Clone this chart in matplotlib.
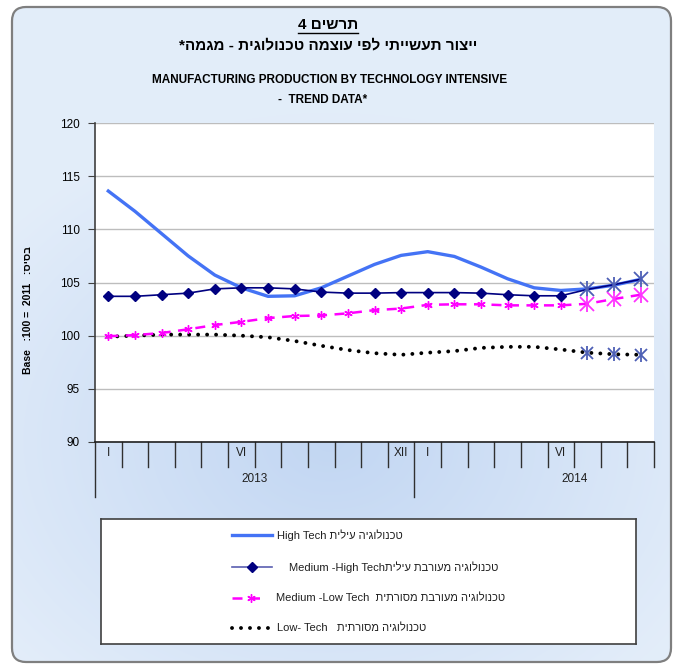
"""
Manufacturing production by technology intensive - trend data
"""

import numpy as np
import matplotlib
matplotlib.use("Agg")
import matplotlib.pyplot as plt
from matplotlib.patches import FancyBboxPatch
from matplotlib.lines import Line2D
import matplotlib.transforms as mtransforms

plt.rcParams["font.family"] = ["Liberation Sans", "DejaVu Sans"]


def heb(s):
    # matplotlib draws left to right, so Hebrew runs are given in visual order
    return s[::-1]


# ---------------------------------
# Data
# ---------------------------------

months = list(range(1, 22))
month_labels = ["I", "", "", "", "", "VI", "", "", "", "", "", "XII",
                "I", "", "", "", "", "VI", "", "", ""]
years = ["2013", "2014"]
year_pos = [6.5, 18.5]

high_tech = [113.6, 111.7, 109.6, 107.5, 105.7, 104.5, 103.7, 103.75, 104.5,
             105.6, 106.7, 107.55, 107.9, 107.45, 106.45, 105.35, 104.5,
             104.25, 104.4, 104.75, 105.3]
med_high = [103.7, 103.7, 103.85, 104.0, 104.4, 104.5, 104.5, 104.4, 104.1,
            104.0, 104.0, 104.05, 104.05, 104.05, 104.0, 103.85, 103.75,
            103.75, 104.35, 104.8, 105.3]
med_low = [99.95, 100.05, 100.25, 100.6, 101.0, 101.3, 101.65, 101.85, 101.9,
           102.1, 102.4, 102.55, 102.9, 102.95, 102.95, 102.85, 102.85,
           102.85, 103.0, 103.45, 103.85]
low_tech = [99.9, 100.0, 100.1, 100.1, 100.1, 100.0, 99.85, 99.5, 99.05,
            98.65, 98.35, 98.2, 98.4, 98.55, 98.85, 98.95, 98.95, 98.7,
            98.4, 98.25, 98.2]
n_est = 3  # last months are estimates

legend_labels = [
    "High Tech " + heb("טכנולוגיה עילית"),
    "Medium -High Tech" + heb("טכנולוגיה מעורבת עילית"),
    "Medium -Low Tech  " + heb("טכנולוגיה מעורבת מסורתית"),
    "Low- Tech   " + heb("טכנולוגיה מסורתית"),
]

# ---------------------------------
# Figure and background
# ---------------------------------

W, H = 675, 665
fig = plt.figure(figsize=(W / 100, H / 100), dpi=100)
fig.patch.set_facecolor("white")

bg = fig.add_axes([0, 0, 1, 1], zorder=-10)
bg.set_xlim(0, W)
bg.set_ylim(H, 0)
bg.axis("off")

yy, xx = np.mgrid[0:H, 0:W]
r = np.sqrt(((xx - 330) / 420.0) ** 2 + ((yy - 440) / 330.0) ** 2)
t = np.clip(r, 0, 1)[..., None]
c_in = np.array([0.76, 0.84, 0.95])
c_out = np.array([0.89, 0.93, 0.98])
grad = c_in * (1 - t) + c_out * t
im = bg.imshow(grad, extent=(0, W, H, 0), aspect="auto", zorder=0)

frame = FancyBboxPatch((12, 7), 659, 655,
                       boxstyle="round,pad=0,rounding_size=14",
                       facecolor="none", edgecolor="#7f7f7f", lw=1.6,
                       zorder=2)
bg.add_patch(frame)
im.set_clip_path(frame)

# ---------------------------------
# Titles
# ---------------------------------

t1 = fig.text(328 / W, 1 - 25 / H, "4 " + heb("תרשים"), ha="center",
              va="center", fontsize=11, fontweight="bold")
fig.text(328 / W, 1 - 45 / H,
         heb("ייצור תעשייתי לפי עוצמה טכנולוגית - מגמה*"),
         ha="center", va="center", fontsize=11, fontweight="bold")
fig.text(330 / W, 1 - 80 / H,
         "MANUFACTURING PRODUCTION BY TECHNOLOGY INTENSIVE",
         ha="center", va="center", fontsize=8.5, fontweight="bold")
fig.text(323 / W, 1 - 100 / H, "-  TREND DATA*",
         ha="center", va="center", fontsize=8.5, fontweight="bold")

fig.text(28 / W, 1 - 310 / H,
         "Base   :100 =  2011   :" + heb("בסיס"),
         rotation=90, ha="center", va="center", fontsize=7.5,
         fontweight="bold")

# ---------------------------------
# Plot area
# ---------------------------------

ax = fig.add_axes([95 / W, 1 - 442 / H, 559 / W, 319 / H])
ax.set_facecolor("white")
ax.set_xlim(0.5, 21.5)
ax.set_ylim(90, 120)
ax.set_yticks(range(90, 121, 5))
ax.tick_params(axis="y", labelsize=8.5, length=5, color="#404040",
               pad=6)
ax.set_xticks([])
ax.grid(axis="y", color="#bdbdbd", lw=1)
ax.set_axisbelow(True)
for s in ["top", "right"]:
    ax.spines[s].set_visible(False)
ax.spines["left"].set_color("#404040")
ax.spines["bottom"].set_color("#202020")
ax.spines["left"].set_linewidth(1.2)
ax.spines["bottom"].set_linewidth(1.2)

# category axis below the plot
trans = mtransforms.blended_transform_factory(ax.transData, ax.transAxes)
for b in np.arange(0.5, 22, 1.0):
    low = -0.172 if b in (0.5, 12.5) else -0.078
    ax.plot([b, b], [0, low], transform=trans, color="#303030", lw=1,
            clip_on=False)
for m, lab in zip(months, month_labels):
    ax.text(m, -0.036, lab, transform=trans, ha="center", va="center",
            fontsize=8.5, color="#202020")
for p, y in zip(year_pos, years):
    ax.text(p, -0.115, y, transform=trans, ha="center", va="center",
            fontsize=8.5, color="#202020")

# series
ax.plot(months, low_tech, color="black", lw=2.8,
        linestyle=(0, (0.01, 2.3)), dash_capstyle="round", zorder=3)
ax.plot(months, med_low, color="#ff00ff", lw=1.8,
        linestyle=(0, (4, 3)), marker=(6, 2, 0), ms=6, mew=1,
        markevery=slice(0, 21 - n_est), zorder=4)
ax.plot(months, high_tech, color="#4473f5", lw=2.4, zorder=5)
ax.plot(months, med_high, color="#000080", lw=1.2, marker="D", ms=5,
        markevery=slice(0, 21 - n_est), zorder=6)

# estimate markers
est = months[-n_est:]
for ser, col, size in [(med_high, "#4d5fb5", 12), (low_tech, "#4d5fb5", 10),
                       (med_low, "#ff33ff", 12)]:
    ax.plot(est, ser[-n_est:], ls="none", marker="x", ms=size * 0.8,
            mew=1.3, color=col, zorder=7)
    ax.plot(est, ser[-n_est:], ls="none", marker="|", ms=size,
            mew=1.3, color=col, zorder=7)

# ---------------------------------
# Legend
# ---------------------------------

lax = fig.add_axes([101 / W, 1 - 644 / H, 535 / W, 125 / H])
lax.set_xlim(0, 535)
lax.set_ylim(125, 0)
lax.set_xticks([])
lax.set_yticks([])
lax.set_facecolor("white")
for s in lax.spines.values():
    s.set_color("#404040")
    s.set_linewidth(1.2)

rows = [16, 48, 79, 109]
text_x = [176, 188, 175, 176]
lax.plot([131, 171], [rows[0]] * 2, color="#4473f5", lw=2.4)
lax.plot([131, 171], [rows[1]] * 2, color="#5a5fb0", lw=1.2)
lax.plot([151], [rows[1]], marker="D", ms=5, color="#000080")
lax.plot([131, 164], [rows[2]] * 2, color="#ff00ff", lw=1.8,
         linestyle=(0, (4, 3)))
lax.plot([150], [rows[2]], marker=(6, 2, 0), ms=6, mew=1, color="#ff00ff")
lax.plot([131, 171], [rows[3]] * 2, color="black", lw=2.8,
         linestyle=(0, (0.01, 2.3)), dash_capstyle="round")
for y, x, lab in zip(rows, text_x, legend_labels):
    lax.text(x, y, lab, ha="left", va="center", fontsize=8,
             color="#202020")

# underline chart number
fig.canvas.draw()
bb = t1.get_window_extent()
fig.add_artist(Line2D([bb.x0, bb.x1], [bb.y0 - 1, bb.y0 - 1],
                      transform=None, color="black", lw=1))

fig.savefig("out.png", dpi=100)
